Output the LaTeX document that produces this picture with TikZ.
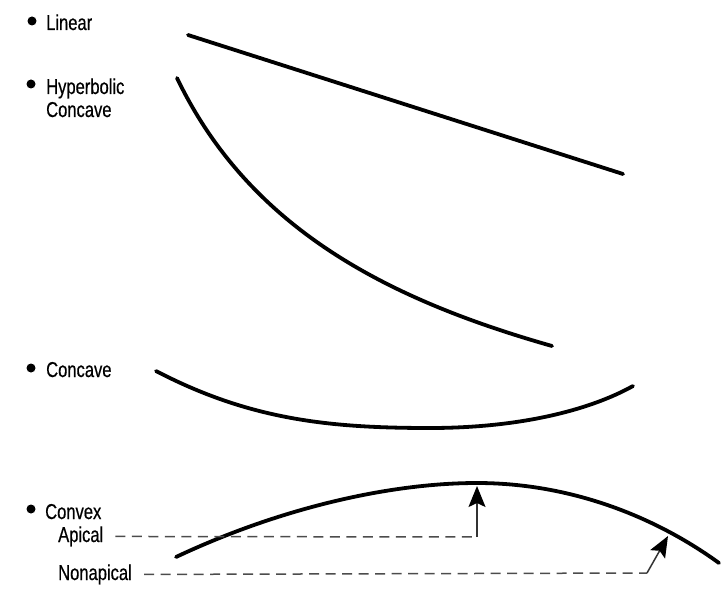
\documentclass[tikz,border=0pt]{standalone}
\usepackage{fontspec}
\setmainfont{Liberation Sans}[FakeStretch=0.77,FakeBold=0.5]
\usepackage{tikz}
\usetikzlibrary{positioning, calc, arrows.meta}
\tikzset{style={font=\fontsize{21.5}{23}\selectfont}}

\begin{document}
\begin{tikzpicture}[x=1pt,y=-1pt,>={Stealth[length=21pt,width=17pt,inset=4pt,color=black]},
            dot/.style={circle,fill=black,inner sep=0pt,minimum size=9pt},
            txt/.style={anchor=base west,inner sep=0pt,align=left},
            curve/.style={line width=3.8pt,line cap=round},
            lead/.style={line width=1.5pt,black!70,dash pattern=on 10pt off 6.5pt},
            pointer/.style={line width=1.5pt,black!80,->}]
            \useasboundingbox (0,0) rectangle (727,596);
            % labels
            \node[dot] (d1) at (32,21) {};
            \node[txt] (linear) at (46,30) {Linear};
            \node[dot] (d2) at (31,84) {};
            \node[txt] (hyper) at (46,117) {Hyperbolic\\Concave};
            \node[dot] (d3) at (31,368) {};
            \node[txt] (concave) at (46,377) {Concave};
            \node[dot] (d4) at (31,509) {};
            \node[txt] (convex) at (45,519) {Convex};
            \node[txt] (apical) at (58,542) {Apical};
            \node[txt] (nonapical) at (58,580) {Nonapical};
            % curves
            \draw[curve] (188,35) -- (623,174);
            \draw[curve] (177,78) .. controls (250,230) and (390,300) .. (552,346);
            \draw[curve] (156,371) .. controls (250,420) and (330,428) .. (430,428)
            .. controls (520,428) and (590,410) .. (633,386);
            \draw[curve] (176,557) .. controls (280,508) and (390,483) .. (477,483)
            .. controls (565,483) and (650,513) .. (719,563);
            % pointers
            \coordinate (apex) at (477,486);
            \coordinate (side) at (668,536);
            \coordinate (c1) at (477,537);
            \coordinate (c2) at (647,573);
            \draw[lead] ($(apical.east)+(12,0)$ |- c1) -- (c1);
            \draw[pointer] (c1) -- (apex);
            \draw[lead] ($(nonapical.east)+(12,0)$ |- c2) -- (c2);
            \draw[pointer] (c2) -- (side);
        \end{tikzpicture}
\end{document}
